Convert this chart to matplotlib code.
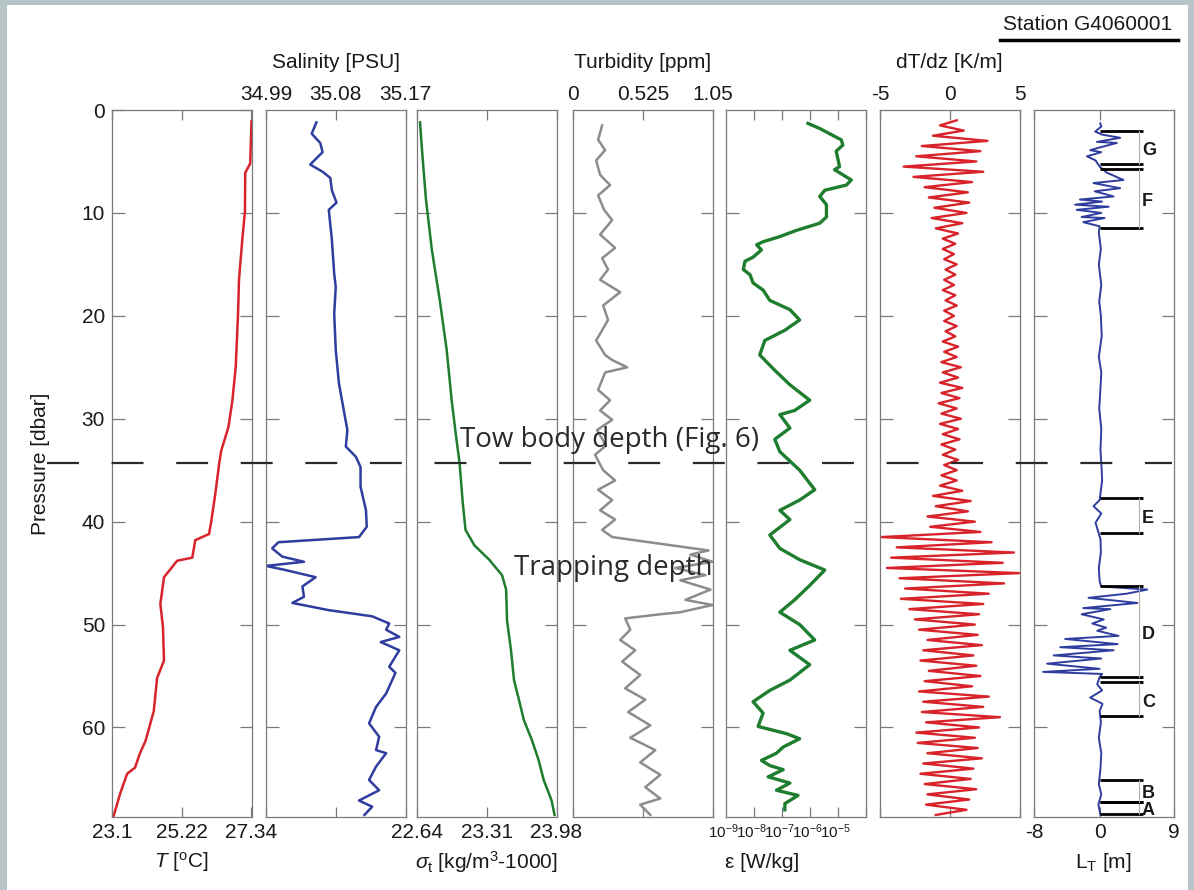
import numpy as np
import matplotlib.pyplot as plt
import matplotlib.transforms as mtransforms
from matplotlib.lines import Line2D
from matplotlib.patches import Rectangle

plt.rcParams['font.family'] = ['Liberation Sans', 'DejaVu Sans']
plt.rcParams['mathtext.fontset'] = 'custom'
plt.rcParams['mathtext.rm'] = 'Liberation Sans'
plt.rcParams['mathtext.it'] = 'Liberation Sans:italic'
plt.rcParams['mathtext.bf'] = 'Liberation Sans:bold'
plt.rcParams['lines.scale_dashes'] = False

# ---- profiles (pressure in dbar) ----
t_p = [1.1, 5.2, 6.1, 9.9, 12.6, 16.5, 19.9, 25.0, 28.2, 30.8, 33.1, 34.3, 37.3, 39.9,
       41.2, 41.8, 43.5, 43.8, 45.4, 48.0, 50.3, 53.5, 55.2, 58.4, 61.3, 62.5, 63.9,
       64.5, 66.4, 68.6]
t_val = [27.34, 27.30, 27.15, 27.14, 27.06, 26.96, 26.93, 26.86, 26.76, 26.64, 26.42,
         26.36, 26.24, 26.12, 26.05, 25.63, 25.54, 25.08, 24.68, 24.57, 24.65, 24.68,
         24.47, 24.37, 24.12, 23.95, 23.80, 23.56, 23.35, 23.15]

s_p = [1.2, 2.3, 2.8, 3.2, 4.1, 4.7, 5.3, 6.0, 6.6, 7.8, 9.0, 9.7, 12.6, 15.9, 17.2,
       19.8, 23.3, 26.5, 28.2, 31.1, 32.7, 33.7, 34.7, 36.6, 38.9, 40.5, 41.5, 42.0,
       42.6, 43.4, 43.9, 44.3, 44.7, 45.4, 46.3, 47.3, 47.9, 48.6, 49.2, 49.9, 50.5,
       51.2, 51.7, 52.5, 54.1, 54.7, 56.7, 58.0, 59.6, 60.9, 62.2, 62.5, 63.8, 65.1,
       66.1, 67.1, 67.7, 68.5]
s_val = [35.055, 35.049, 35.055, 35.060, 35.063, 35.055, 35.047, 35.063, 35.073,
         35.075, 35.081, 35.071, 35.075, 35.078, 35.080, 35.078, 35.080, 35.084,
         35.088, 35.095, 35.093, 35.106, 35.112, 35.112, 35.119, 35.120, 35.110,
         35.006, 34.998, 35.011, 35.039, 34.990, 35.015, 35.054, 35.037, 35.039,
         35.024, 35.071, 35.127, 35.149, 35.145, 35.162, 35.138, 35.162, 35.149,
         35.157, 35.145, 35.132, 35.123, 35.136, 35.132, 35.145, 35.132, 35.123,
         35.136, 35.110, 35.127, 35.117]

sig_p = [1.2, 3.9, 8.7, 13.6, 18.5, 23.3, 28.2, 32.1, 34.3, 37.9, 40.8, 42.3, 43.7,
         45.2, 46.6, 49.6, 52.5, 55.4, 57.3, 59.3, 61.2, 63.2, 65.1, 67.1, 68.5]
sig_val = [22.669, 22.688, 22.726, 22.783, 22.859, 22.925, 22.973, 23.020, 23.049,
           23.077, 23.106, 23.191, 23.334, 23.457, 23.496, 23.505, 23.543, 23.572,
           23.619, 23.667, 23.743, 23.809, 23.857, 23.933, 23.961]

tur_p = [1.5, 2.9, 3.9, 4.9, 6.3, 7.3, 8.3, 9.7, 10.7, 12.1, 13.4, 14.4, 15.5, 16.5,
         17.7, 19.0, 20.4, 22.4, 23.8, 24.3, 25.0, 25.5, 27.2, 28.2, 29.2, 30.1, 31.1,
         32.6, 33.5, 35.0, 36.0, 36.9, 37.9, 38.9, 39.8, 40.8, 41.5, 42.8, 43.2, 43.9,
         44.5, 45.2, 45.7, 46.6, 47.6, 48.1, 48.8, 49.0, 49.4, 50.5, 51.5, 52.5, 53.6,
         54.9, 56.2, 57.3, 58.5, 59.8, 61.0, 62.2, 63.4, 64.6, 65.8, 66.9, 67.5, 68.5]
tur_val = [0.219, 0.189, 0.242, 0.174, 0.204, 0.279, 0.189, 0.234, 0.295, 0.204,
           0.317, 0.219, 0.264, 0.204, 0.355, 0.227, 0.264, 0.174, 0.242, 0.295,
           0.408, 0.242, 0.189, 0.279, 0.204, 0.295, 0.181, 0.249, 0.166, 0.227,
           0.317, 0.189, 0.295, 0.204, 0.317, 0.219, 0.295, 1.020, 0.884, 1.050,
           0.770, 0.997, 0.808, 1.035, 0.846, 1.050, 0.808, 0.657, 0.393, 0.431,
           0.355, 0.468, 0.370, 0.506, 0.393, 0.544, 0.415, 0.582, 0.431, 0.619,
           0.506, 0.657, 0.544, 0.657, 0.506, 0.582]

eps_p = [1.3, 1.8, 2.9, 3.4, 4.0, 5.5, 5.8, 6.8, 7.3, 7.8, 8.4, 9.2, 10.4, 11.0, 11.7,
         12.3, 12.8, 13.1, 13.6, 14.3, 14.7, 15.5, 16.0, 16.8, 17.5, 18.5, 19.4, 20.4,
         21.4, 22.4, 23.8, 25.3, 26.7, 28.2, 29.2, 29.6, 30.9, 32.0, 33.2, 35.0, 36.9,
         37.9, 38.9, 39.8, 41.3, 42.6, 43.7, 44.7, 46.2, 47.6, 48.8, 50.0, 51.5, 52.5,
         53.9, 55.4, 56.4, 57.5, 58.6, 59.9, 60.6, 61.1, 61.9, 62.5, 63.2, 63.7, 64.1,
         64.8, 65.4, 66.1, 66.6, 67.4, 68.0]
eps_log10 = [-7.06, -6.64, -5.87, -5.81, -6.05, -5.93, -6.11, -5.51, -5.69, -6.46,
             -6.64, -6.40, -6.40, -6.64, -7.48, -8.07, -8.67, -8.90, -8.73, -9.03,
             -9.32, -9.38, -9.14, -9.03, -8.67, -8.43, -7.71, -7.36, -7.89, -8.61,
             -8.79, -8.25, -7.71, -7.00, -7.54, -8.07, -7.71, -8.25, -8.07, -7.36,
             -6.82, -7.36, -8.07, -7.71, -8.43, -8.07, -7.36, -6.46, -7.00, -7.54,
             -8.07, -7.36, -6.82, -7.71, -7.00, -7.71, -8.43, -9.03, -8.67, -8.85,
             -7.83, -7.36, -7.95, -8.19, -8.73, -8.43, -7.95, -8.49, -7.71, -8.19,
             -7.42, -7.89, -7.89]

# temperature gradient sampled every 0.5 dbar from 1 dbar
dtdz_p = np.arange(1.0, 69.0, 0.5)
dtdz_val = [0.5, -0.7, 1.0, -1.2, 2.7, -2.0, 2.2, -2.4, 1.9, -3.3,
            2.4, -2.6, 1.6, -1.8, 1.3, -1.5, 1.4, -1.1, 1.2, -1.3,
            0.9, -1.0, 0.6, -0.5, 0.4, -0.5, 0.3, -0.4, 0.5, -0.3,
            0.4, -0.4, 0.3, -0.5, 0.4, -0.3, 0.5, -0.4, 0.3, -0.4,
            0.5, -0.3, 0.4, -0.5, 0.6, -0.4, 0.5, -0.6, 0.8, -0.5,
            0.6, -0.7, 0.9, -0.6, 0.7, -0.8, 0.5, -0.6, 0.8, -0.7,
            0.6, -0.5, 0.7, -0.6, 0.4, -0.5, 0.6, -0.4, 0.5, -0.6,
            0.5, -0.7, 0.9, -1.2, 1.5, -1.0, 1.3, -1.6, 1.8, -1.4,
            2.2, -4.9, 3.0, -3.8, 4.6, -4.2, 3.8, -4.5, 5.0, -3.6,
            3.9, -3.2, 2.8, -3.5, 2.4, -2.9, 2.1, -2.5, 1.8, -2.2,
            2.0, -1.6, 2.3, -1.9, 1.7, -2.1, 1.9, -1.5, 2.2, -1.8,
            1.6, -2.2, 2.8, -1.9, 2.4, -2.0, 3.6, -1.7, 2.1, -2.4,
            1.8, -2.3, 2.0, -1.6, 2.3, -1.9, 1.7, -2.1, 1.5, -1.8,
            1.9, -1.6, 1.4, -1.7, 1.2, -1.0]

lt_p = [1.3, 1.6, 2.1, 2.4, 2.7, 3.1, 3.2, 3.6, 3.9, 4.1, 4.5, 4.9, 5.5, 6.1, 6.8,
        7.1, 7.6, 7.9, 8.4, 8.7, 8.9, 9.2, 9.4, 9.7, 10.0, 10.4, 10.5, 10.9, 11.3, 11.9,
        13.5, 15.0, 17.0, 18.6, 20.0, 22.0, 24.0, 25.5, 27.0, 29.0, 31.0, 33.0, 35.0,
        36.0, 37.9, 38.5, 39.2, 40.1, 41.7, 43.0, 44.5, 45.8,
        46.3, 46.6, 47.0, 47.4, 47.9, 48.4, 48.5, 49.0, 49.5, 49.9, 50.3, 50.6, 51.1,
        51.4, 51.9, 52.2, 52.5, 53.0, 53.3, 53.8, 54.3, 54.6, 54.8, 55.1, 55.8, 56.4,
        57.1, 57.7, 58.4, 59.5, 61.0, 62.5, 64.0, 65.5, 66.5, 67.5, 68.5]
lt_val = [0.07, 0.2, -0.54, 0.34, 2.5, -0.33, 2.1, 0.2, -1.15, 0.2, -1.55, -0.5, 0.0,
          0.9, 2.9, -0.75, 2.5, -0.6, 1.7, -2.4, 0.3, -3.0, 1.1, -2.8, 0.2, -2.2, 0.6,
          -2.0, 0.0, -0.1,
          0.15, -0.1, 0.2, -0.05, 0.15, 0.25, -0.1, 0.2, 0.1, -0.05, 0.2, 0.1, 0.25,
          0.3, 0.0, -0.75, 0.2, -0.5, 0.1, 0.15, -0.1, 0.0,
          0.2, 5.8, 3.3, -1.35, 4.6, -2.0, 1.3, -2.2, 0.5, -0.9, 0.8, -0.3, 2.3,
          -4.2, 2.2, -4.8, 1.7, -5.6, 0.2, -6.4, 0.0, -6.9, 0.3, 0.0, -0.3, 0.3,
          -1.15, 0.35, 0.0, 0.15, -0.1, 0.2, 0.1, -0.1, 0.2, -0.15, 0.1]

# overturning regions (top, bottom) in dbar
ov_names = ['A', 'B', 'C', 'D', 'E', 'F', 'G']
ov_top = [67.2, 65.1, 55.6, 46.3, 37.7, 5.7, 2.0]
ov_bot = [68.4, 67.2, 58.9, 55.1, 41.1, 11.5, 5.2]

tow_depth = 34.3
p_max = 68.7

red, blue, green, grey = '#d8232a', '#2f3d9f', '#1f7d2e', '#8c8c8c'
spine_c = '#7a7a7a'
txt_c = '#1a1a1a'
fs = 15

W, H = 1194, 890
fig = plt.figure(figsize=(W / 100, H / 100), dpi=100)
fig.patch.set_facecolor('#b7c5c9')
fig.add_artist(Rectangle((7 / W, 0), (1188 - 7) / W, 885 / H, transform=fig.transFigure,
                         facecolor='white', edgecolor='none', zorder=-5))

lefts = [112, 266, 417, 573, 726, 880, 1034]
ax_bottom, ax_h = 73 / H, 707 / H
axes = [fig.add_axes([l / W, ax_bottom, 139.5 / W, ax_h]) for l in lefts]

for ax in axes:
    ax.set_ylim(p_max, 0)
    ax.set_yticks([10, 20, 30, 40, 50, 60])
    ax.tick_params(axis='y', which='both', direction='in', left=True, right=True,
                   length=9, width=0.9, color=spine_c, labelleft=False,
                   labelsize=fs, labelcolor=txt_c, pad=5)
    ax.tick_params(axis='x', which='major', direction='in', top=True, bottom=True,
                   length=7, width=0.9, color=spine_c, labelsize=fs,
                   labelcolor=txt_c, pad=4)
    for s in ax.spines.values():
        s.set_color(spine_c)
        s.set_linewidth(0.9)


def bottom_label(ax, text, xfrac=0.5):
    ax.set_xlabel(text, fontsize=fs, color=txt_c, va='center')
    ax.xaxis.set_label_coords(xfrac, -(862 - 817) / 707)


def top_label(ax, text):
    ax.xaxis.set_label_position('top')
    ax.set_xlabel(text, fontsize=fs, color=txt_c, va='center')
    ax.xaxis.set_label_coords(0.5, 1 + (110 - 62) / 707)


def top_ticks(ax):
    ax.tick_params(axis='x', labeltop=True, labelbottom=False)


# temperature
ax = axes[0]
ax.plot(t_val, t_p, color=red, lw=1.8)
ax.set_xlim(23.1, 27.34)
ax.set_xticks([23.1, 25.22, 27.34], ['23.1', '25.22', '27.34'])
ax.set_yticks([0, 10, 20, 30, 40, 50, 60])
ax.tick_params(axis='y', labelleft=True)
bottom_label(ax, r'$T$ [$^{\rm o}$C]')
ax.set_ylabel('Pressure [dbar]', fontsize=fs, color=txt_c)
ax.yaxis.set_label_coords(-(112 - 50) / 139.5, 0.5)

# salinity
ax = axes[1]
ax.plot(s_val, s_p, color=blue, lw=1.8)
ax.set_xlim(34.99, 35.17)
ax.set_xticks([34.99, 35.08, 35.17], ['34.99', '35.08', '35.17'])
top_ticks(ax)
top_label(ax, 'Salinity [PSU]')

# density
ax = axes[2]
ax.plot(sig_val, sig_p, color=green, lw=1.8)
ax.set_xlim(22.64, 23.98)
ax.set_xticks([22.64, 23.31, 23.98], ['22.64', '23.31', '23.98'])
bottom_label(ax, r'$\sigma_{\rm t}$ [kg/m$^3$-1000]')

# turbidity
ax = axes[3]
ax.plot(tur_val, tur_p, color=grey, lw=1.8)
ax.set_xlim(0, 1.05)
ax.set_xticks([0, 0.525, 1.05], ['0', '0.525', '1.05'])
top_ticks(ax)
top_label(ax, 'Turbidity [ppm]')

# dissipation rate
ax = axes[4]
ax.plot(10 ** np.array(eps_log10), eps_p, color=green, lw=2.4)
ax.set_xscale('log')
ax.set_xlim(1e-10, 1e-5)
ax.set_xticks([1e-9, 1e-8, 1e-7, 1e-6, 1e-5],
              [r'$10^{-9}$', r'$10^{-8}$', r'$10^{-7}$', r'$10^{-6}$', r'$10^{-5}$'])
ax.xaxis.set_minor_locator(plt.matplotlib.ticker.LogLocator(base=10, subs=np.arange(2, 10)))
ax.xaxis.set_minor_formatter(plt.matplotlib.ticker.NullFormatter())
ax.tick_params(axis='x', which='minor', direction='in', top=True, bottom=True,
               length=4, width=0.8, color=spine_c)
ax.tick_params(axis='x', which='major', labelsize=11)
shift = mtransforms.ScaledTranslation(-30 / 100, 0, fig.dpi_scale_trans)
for lbl in ax.get_xticklabels():
    lbl.set_transform(lbl.get_transform() + shift)
bottom_label(ax, 'ε [W/kg]', xfrac=0.26)

# temperature gradient
ax = axes[5]
ax.plot(dtdz_val, dtdz_p, color=red, lw=1.7)
ax.set_xlim(-5, 5)
ax.set_xticks([-5, 0, 5], ['-5', '0', '5'])
top_ticks(ax)
top_label(ax, 'dT/dz [K/m]')

# Thorpe scale with overturn brackets
ax = axes[6]
ax.plot(lt_val, lt_p, color=blue, lw=1.4)
ax.set_xlim(-8, 9)
ax.set_xticks([-8, 0, 9], ['-8', '0', '9'])
bottom_label(ax, r'L$_{\rm T}$ [m]')
for name, top, bot in zip(ov_names, ov_top, ov_bot):
    ax.plot([0, 5.25], [top, top], color='black', lw=2.0, solid_capstyle='butt')
    ax.plot([0, 5.25], [bot, bot], color='black', lw=2.0, solid_capstyle='butt')
    ax.plot([4.85, 4.85], [top, bot], color='#b0b0b0', lw=0.8)
    ax.text(5.15, (top + bot) / 2 + 0.3, name, fontsize=13, fontweight='bold',
            color=txt_c, ha='left', va='center')

# tow body depth across all panels
y_tow = ax_bottom + ax_h * (1 - tow_depth / p_max)
fig.add_artist(Line2D([47 / W, 1172 / W], [y_tow, y_tow], transform=fig.transFigure,
                      color='#2a2a2a', lw=1.6, dashes=(23, 23.5), zorder=10))

fig.text(610 / W, 1 - 440 / H, 'Tow body depth (Fig. 6)', family='Open Sans',
         fontsize=20, color='#2a2a2a', ha='center', va='center', zorder=11)
fig.text(613 / W, 1 - 568 / H, 'Trapping depth', family='Open Sans',
         fontsize=20, color='#2a2a2a', ha='center', va='center', zorder=11)

fig.text(1088 / W, 1 - 24 / H, 'Station G4060001', fontsize=15, color=txt_c,
         ha='center', va='center')
fig.add_artist(Line2D([1000 / W, 1178 / W], [1 - 40 / H, 1 - 40 / H],
                      transform=fig.transFigure, color='black', lw=2.5))

fig.savefig('out.png', dpi=100, facecolor=fig.get_facecolor())
